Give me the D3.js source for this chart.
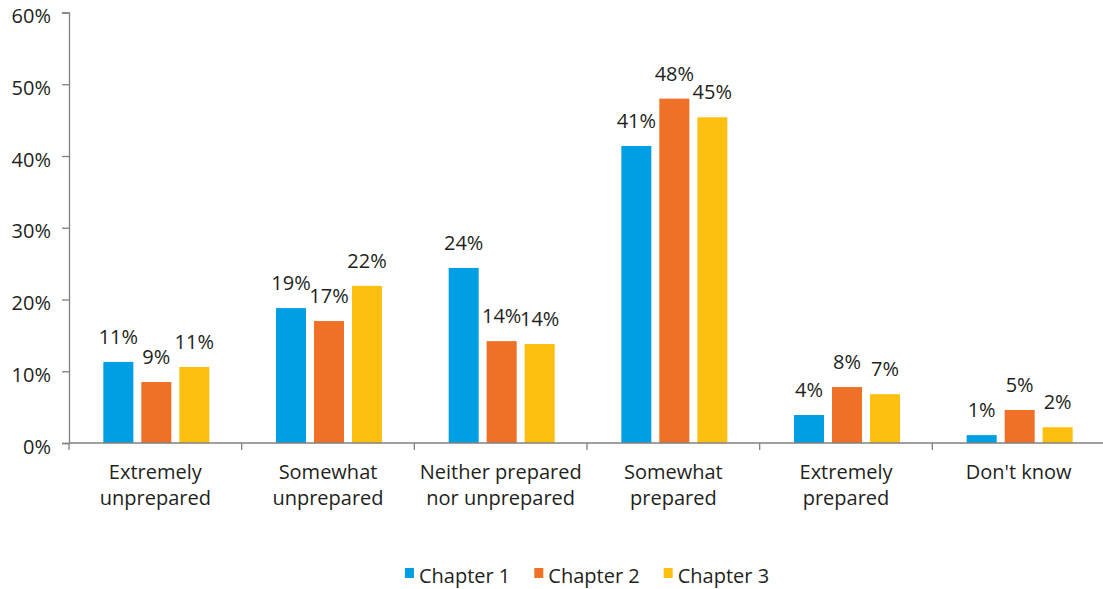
<!DOCTYPE html>
<html>
<head>
<meta charset="utf-8">
<script src="https://cdn.jsdelivr.net/npm/d3@7"></script>
<style>
  html, body { margin: 0; padding: 0; background: #ffffff; }
  svg { display: block; font-family: "Open Sans", "Noto Sans", sans-serif; }
</style>
</head>
<body>
<svg id="chart" width="1103" height="589"></svg>
<script>
// Preparedness responses by chapter (share of respondents)
const categories = [
  ["Extremely", "unprepared"],
  ["Somewhat", "unprepared"],
  ["Neither prepared", "nor unprepared"],
  ["Somewhat", "prepared"],
  ["Extremely", "prepared"],
  ["Don't know"]
];
const seriesNames = ["Chapter 1", "Chapter 2", "Chapter 3"];
const chapter1 = [0.113, 0.188, 0.244, 0.414, 0.039, 0.011];
const chapter2 = [0.085, 0.170, 0.142, 0.480, 0.078, 0.046];
const chapter3 = [0.106, 0.219, 0.138, 0.454, 0.068, 0.022];
const seriesColors = ["#009fe3", "#ee7127", "#fdc010"];
const yTicks = [0, 0.1, 0.2, 0.3, 0.4, 0.5, 0.6];

const seriesValues = [chapter1, chapter2, chapter3];
const catKeys = categories.map(c => c.join(" "));

const svg = d3.select("#chart");
const margin = { left: 69, right: -2, top: 12.5, bottom: 146 };
const W = +svg.attr("width"), H = +svg.attr("height");

const x0 = d3.scaleBand()
  .domain(catKeys)
  .range([margin.left, W - margin.right]);

const groupWidth = 106;
const x1 = d3.scaleBand()
  .domain(seriesNames)
  .range([0, groupWidth])
  .paddingInner(0.21);

const y = d3.scaleLinear()
  .domain([0, 0.6])
  .range([H - margin.bottom, margin.top]);

const axisColor = "#808080";
const textColor = "#231f20";
const pct = d3.format(".0%");

// Y axis
const yAxis = svg.append("g")
  .attr("transform", `translate(${margin.left},0)`)
  .call(d3.axisLeft(y).tickValues(yTicks).tickFormat(pct).tickSize(7).tickPadding(11));
yAxis.select(".domain").attr("stroke", axisColor).attr("stroke-width", 1.3);
yAxis.selectAll(".tick line").attr("stroke", axisColor).attr("stroke-width", 1.3);
yAxis.selectAll(".tick text")
  .attr("fill", textColor)
  .attr("dy", "0.5em")
  .style("font-size", "20px")
  .style("font-family", "'Open Sans', sans-serif");

// Bars
const groups = svg.append("g")
  .selectAll("g")
  .data(catKeys)
  .join("g")
  .attr("transform", d => `translate(${x0(d) + (x0.bandwidth() - groupWidth) / 2 + 1},0)`);

groups.selectAll("rect")
  .data((d, i) => seriesNames.map((s, j) => ({ s, j, v: seriesValues[j][i] })))
  .join("rect")
  .attr("x", d => x1(d.s))
  .attr("width", x1.bandwidth())
  .attr("y", d => y(d.v))
  .attr("height", d => y(0) - y(d.v))
  .attr("fill", d => seriesColors[d.j]);

// Value labels
groups.selectAll("text.value")
  .data((d, i) => seriesNames.map((s, j) => ({ s, j, v: seriesValues[j][i] })))
  .join("text")
  .attr("class", "value")
  .attr("x", d => x1(d.s) + x1.bandwidth() / 2)
  .attr("y", d => y(d.v) - 18)
  .attr("text-anchor", "middle")
  .attr("fill", textColor)
  .style("font-size", "20px")
  .text(d => pct(d.v));

// X axis with ticks on category boundaries
const xAxisG = svg.append("g");
xAxisG.append("line")
  .attr("x1", margin.left).attr("x2", W)
  .attr("y1", y(0)).attr("y2", y(0))
  .attr("stroke", axisColor).attr("stroke-width", 1.3);
const bounds = catKeys.map(k => x0(k)).concat([x0.range()[1]]);
xAxisG.selectAll("line.tick")
  .data(bounds)
  .join("line")
  .attr("class", "tick")
  .attr("x1", d => d).attr("x2", d => d)
  .attr("y1", y(0)).attr("y2", y(0) + 7)
  .attr("stroke", axisColor).attr("stroke-width", 1.3);

// Category labels
const catLabels = svg.append("g")
  .selectAll("text")
  .data(categories)
  .join("text")
  .attr("x", (d, i) => x0(catKeys[i]) + x0.bandwidth() / 2)
  .attr("y", y(0) + 36)
  .attr("text-anchor", "middle")
  .attr("fill", textColor)
  .style("font-size", "20px");
catLabels.selectAll("tspan")
  .data(d => d)
  .join("tspan")
  .attr("x", function () { return d3.select(this.parentNode).attr("x"); })
  .attr("dy", (d, i) => i === 0 ? 0 : 26)
  .text(d => d);

// Legend
const legendGap = 24;
const legend = svg.append("g");
const items = legend.selectAll("g")
  .data(seriesNames)
  .join("g");
items.append("rect")
  .attr("width", 9).attr("height", 10)
  .attr("y", -15)
  .attr("fill", (d, i) => seriesColors[i]);
items.append("text")
  .attr("x", 14)
  .attr("fill", textColor)
  .style("font-size", "20px")
  .text(d => d);
let offset = 0;
items.each(function () {
  const w = this.getBBox().width;
  d3.select(this).attr("transform", `translate(${offset},0)`);
  offset += w + legendGap;
});
const legendWidth = offset - legendGap;
legend.attr("transform", `translate(${(margin.left + x0.range()[1]) / 2 - legendWidth / 2},583)`);
</script>
</body>
</html>
